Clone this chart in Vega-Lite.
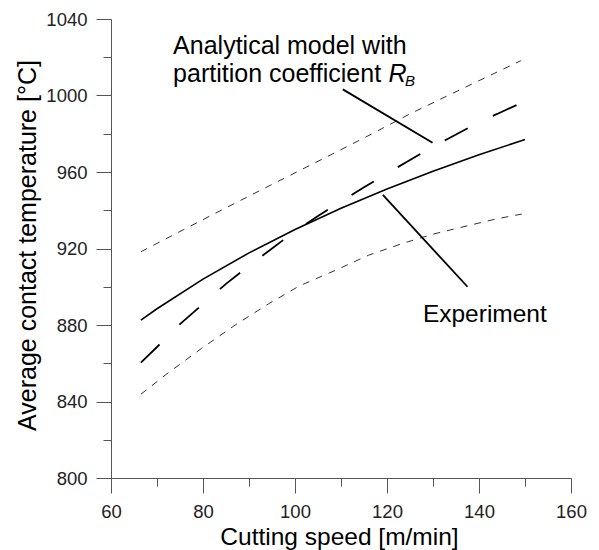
{
  "$schema": "https://vega.github.io/schema/vega-lite/v6.json",
  "width": 460,
  "height": 459,
  "autosize": {"type": "none"},
  "padding": {"left": 111, "top": 19, "right": 28, "bottom": 72},
  "background": "white",
  "config": {"view": {"stroke": null}, "font": "Liberation Sans"},
  "datasets": {
    "upper": [
      {"x": 66.5, "y": 918.3}, {"x": 75, "y": 928.9}, {"x": 85, "y": 941.3}, {"x": 95, "y": 953.5},
      {"x": 105, "y": 965.6}, {"x": 115, "y": 977.8}, {"x": 125, "y": 990.4}, {"x": 135, "y": 1002},
      {"x": 145, "y": 1013.5}, {"x": 149.1, "y": 1018.2}
    ],
    "lower": [
      {"x": 66.5, "y": 843.8}, {"x": 72, "y": 854.2}, {"x": 79.7, "y": 867.8}, {"x": 87, "y": 880},
      {"x": 94.2, "y": 891}, {"x": 101, "y": 900.5}, {"x": 108.7, "y": 908.5}, {"x": 116, "y": 916.5},
      {"x": 123.2, "y": 922.5}, {"x": 130, "y": 927.5}, {"x": 137.7, "y": 932}, {"x": 143.8, "y": 935.5},
      {"x": 149.3, "y": 938}
    ],
    "model": [
      {"x": 66.5, "y": 860.3}, {"x": 70, "y": 868.5}, {"x": 75, "y": 880.5}, {"x": 80, "y": 891},
      {"x": 85, "y": 901.5}, {"x": 90, "y": 911}, {"x": 95, "y": 920}, {"x": 100, "y": 929},
      {"x": 105, "y": 937}, {"x": 110, "y": 944.5}, {"x": 115, "y": 952}, {"x": 120, "y": 959.2},
      {"x": 125, "y": 966.3}, {"x": 130, "y": 973.2}, {"x": 135, "y": 979.6}, {"x": 140, "y": 986},
      {"x": 145, "y": 991.5}, {"x": 148.7, "y": 995.6}
    ],
    "experiment": [
      {"x": 66.5, "y": 882.5}, {"x": 70, "y": 888.5}, {"x": 80, "y": 904}, {"x": 90, "y": 917.7},
      {"x": 100, "y": 929.9}, {"x": 110, "y": 941}, {"x": 120, "y": 951.1}, {"x": 130, "y": 960.4},
      {"x": 140, "y": 969}, {"x": 150, "y": 977}
    ],
    "leaders": [
      {"x": 110.4, "y": 1003.2, "x2": 129.9, "y2": 975.3},
      {"x": 119.1, "y": 948, "x2": 137.5, "y2": 900}
    ],
    "labels": [
      {"x": 73.5, "y": 1021.7, "text": "Analytical model with"},
      {"x": 73.5, "y": 1006.8, "text": "partition coefficient"}
    ],
    "exp_label": [{"x": 127.8, "y": 881.7, "text": "Experiment"}],
    "r_label": [{"x": 120.3, "y": 1006.8, "text": "R"}],
    "b_label": [{"x": 123.9, "y": 1005.0, "text": "B"}]
  },
  "encoding": {
    "x": {
      "field": "x",
      "type": "quantitative",
      "scale": {"domain": [60, 160], "nice": false, "zero": false},
      "axis": {
        "values": [60, 70, 80, 90, 100, 110, 120, 130, 140, 150, 160],
        "format": "d",
        "labelExpr": "datum.value % 20 === 0 ? datum.label : ''",
        "tickSize": {"condition": {"test": "datum.value % 20 === 0", "value": 15}, "value": 8},
        "grid": false,
        "domainColor": "#555",
        "tickColor": "#555",
        "domainWidth": 1,
        "tickWidth": 1,
        "labelFont": "Liberation Sans",
        "labelFontSize": 18.5,
        "labelColor": "#222",
        "labelPadding": 9,
        "labelFlush": false,
        "labelOverlap": false,
        "title": "Cutting speed [m/min]",
        "titleFont": "Liberation Sans",
        "titleFontSize": 24.5,
        "titleFontWeight": "normal",
        "titleColor": "#000",
        "titleX": 228,
        "titleY": 66,
        "titleAlign": "center",
        "titleBaseline": "alphabetic"
      }
    },
    "y": {
      "field": "y",
      "type": "quantitative",
      "scale": {"domain": [800, 1040], "nice": false, "zero": false},
      "axis": {
        "values": [800, 820, 840, 860, 880, 900, 920, 940, 960, 980, 1000, 1020, 1040],
        "format": "d",
        "labelExpr": "datum.value % 40 === 0 ? datum.label : ''",
        "tickSize": {"condition": {"test": "datum.value % 40 === 0", "value": 15}, "value": 8},
        "grid": false,
        "domainColor": "#555",
        "tickColor": "#555",
        "domainWidth": 1,
        "tickWidth": 1,
        "labelFont": "Liberation Sans",
        "labelFontSize": 18.5,
        "labelColor": "#222",
        "labelPadding": 9,
        "labelFlush": false,
        "labelOverlap": false,
        "title": "Average contact temperature [°C]",
        "titleFont": "Liberation Sans",
        "titleFontSize": 25,
        "titleFontWeight": "normal",
        "titleColor": "#000",
        "titleAngle": -90,
        "titleX": -76,
        "titleY": 226,
        "titleAlign": "center",
        "titleBaseline": "alphabetic"
      }
    }
  },
  "layer": [
    {"data": {"name": "upper"}, "mark": {"type": "line", "stroke": "#333", "strokeWidth": 1, "strokeDash": [7, 7]}},
    {"data": {"name": "lower"}, "mark": {"type": "line", "stroke": "#333", "strokeWidth": 1, "strokeDash": [7, 7]}},
    {"data": {"name": "model"}, "mark": {"type": "line", "stroke": "#000", "strokeWidth": 1.8, "strokeDash": [26, 28]}},
    {"data": {"name": "experiment"}, "mark": {"type": "line", "stroke": "#000", "strokeWidth": 1.6}},
    {
      "data": {"name": "leaders"},
      "mark": {"type": "rule", "stroke": "#000", "strokeWidth": 1.8},
      "encoding": {"x2": {"field": "x2"}, "y2": {"field": "y2"}}
    },
    {
      "data": {"name": "labels"},
      "mark": {"type": "text", "align": "left", "baseline": "alphabetic", "fontSize": 25, "font": "Liberation Sans", "color": "#000"},
      "encoding": {"text": {"field": "text"}}
    },
    {
      "data": {"name": "exp_label"},
      "mark": {"type": "text", "align": "left", "baseline": "alphabetic", "fontSize": 24.5, "font": "Liberation Sans", "color": "#000"},
      "encoding": {"text": {"field": "text"}}
    },
    {
      "data": {"name": "r_label"},
      "mark": {"type": "text", "align": "left", "baseline": "alphabetic", "fontSize": 25, "fontStyle": "italic", "font": "Liberation Sans", "color": "#000"},
      "encoding": {"text": {"field": "text"}}
    },
    {
      "data": {"name": "b_label"},
      "mark": {"type": "text", "align": "left", "baseline": "alphabetic", "fontSize": 15, "fontStyle": "italic", "font": "Liberation Sans", "color": "#000"},
      "encoding": {"text": {"field": "text"}}
    }
  ]
}
